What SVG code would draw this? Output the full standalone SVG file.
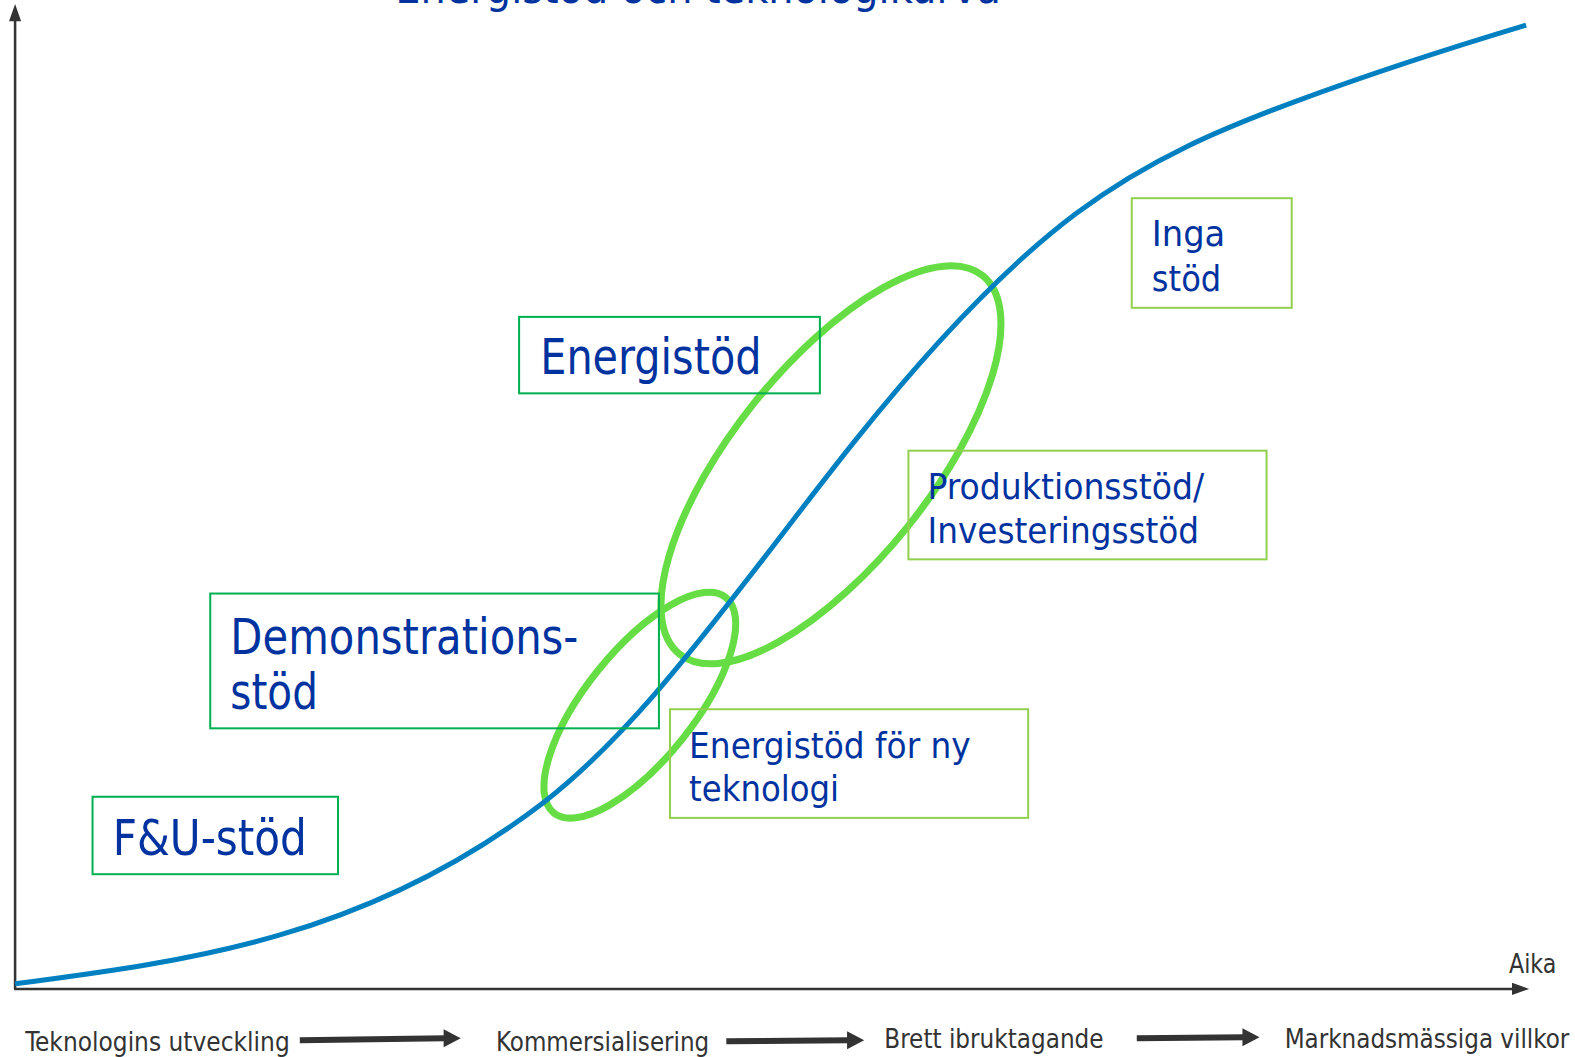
<svg xmlns="http://www.w3.org/2000/svg" width="1575" height="1057" viewBox="0 0 1575 1057">
<style>
  .lbl { font-family: "DejaVu Sans Condensed", "DejaVu Sans", Verdana, sans-serif; fill: #0033A0; }
  .big { font-size: 49px; }
  .mid { font-size: 36px; }
  .foot { font-family: "DejaVu Sans Condensed", "DejaVu Sans", Verdana, sans-serif; font-size: 26px; fill: #333333; }
  .boxD { fill: none; stroke: #00B050; stroke-width: 2; }
  .boxL { fill: none; stroke: #92D050; stroke-width: 2; }
  .ell { fill: none; stroke: #66DD44; stroke-width: 7; }
  .axis { fill: none; stroke: #333333; stroke-width: 2.5; }
  .head { fill: #333333; }
  .flow { fill: none; stroke: #333333; stroke-width: 6; }
</style>
<rect width="1575" height="1057" fill="#ffffff"/>
<g transform="scale(1.006)">

<g id="title">
  <text class="lbl" x="393" y="3" font-size="45" textLength="602" lengthAdjust="spacingAndGlyphs">Energistöd och teknologikurva</text>
</g>

<g id="axes">
  <line class="axis" x1="15" y1="983" x2="15" y2="18"/>
  <polygon class="head" points="15,4 9,21 21,21"/>
  <line class="axis" x1="14" y1="983" x2="1506" y2="983"/>
  <polygon class="head" points="1520,983 1503,977 1503,989"/>
  <text class="foot" x="1500" y="967" textLength="47" lengthAdjust="spacingAndGlyphs">Aika</text>
</g>

<g id="ellipses">
  <ellipse class="ell" cx="826" cy="462" rx="241" ry="98" transform="rotate(-51.3 826 462)"/>
  <ellipse class="ell" cx="636" cy="701" rx="137" ry="54" transform="rotate(-51.4 636 701)"/>
</g>

<g id="curve">
  <path d="M15,978 C190,955 365,932 540,798 C576.7,769.4 613.3,733.2 650,691 C716.7,614.3 783.3,521.3 850,438 C923.3,346.3 996.7,266.85 1070,212 C1143.3,157.15 1216.7,126.99 1290,100 C1365.7,72.15 1441.3,47.7 1517,25" fill="none" stroke="#0080C0" stroke-width="5"/>
</g>

<g id="node-fu">
  <rect class="boxD" x="92" y="792" width="244" height="77"/>
  <text class="lbl big" x="112" y="850" textLength="193" lengthAdjust="spacingAndGlyphs">F&amp;U-stöd</text>
</g>

<g id="node-demo">
  <rect class="boxD" x="209" y="590" width="446" height="134"/>
  <text class="lbl big" x="229" y="650" textLength="346" lengthAdjust="spacingAndGlyphs">Demonstrations-</text>
  <text class="lbl big" x="229" y="705" textLength="87" lengthAdjust="spacingAndGlyphs">stöd</text>
</g>

<g id="node-energistod">
  <rect class="boxD" x="516" y="315" width="299" height="76"/>
  <text class="lbl big" x="537" y="372" textLength="220" lengthAdjust="spacingAndGlyphs">Energistöd</text>
</g>

<g id="node-inga">
  <rect class="boxL" x="1125" y="197" width="159" height="109"/>
  <text class="lbl mid" x="1145" y="245" textLength="73" lengthAdjust="spacingAndGlyphs">Inga</text>
  <text class="lbl mid" x="1145" y="289" textLength="69" lengthAdjust="spacingAndGlyphs">stöd</text>
</g>

<g id="node-produktion">
  <rect class="boxL" x="903" y="448" width="356" height="108"/>
  <text class="lbl mid" x="922" y="496" textLength="275" lengthAdjust="spacingAndGlyphs">Produktionsstöd/</text>
  <text class="lbl mid" x="922" y="540" textLength="270" lengthAdjust="spacingAndGlyphs">Investeringsstöd</text>
</g>

<g id="node-nyteknik">
  <rect class="boxL" x="666" y="705" width="356" height="108"/>
  <text class="lbl mid" x="685" y="753" textLength="280" lengthAdjust="spacingAndGlyphs">Energistöd för ny</text>
  <text class="lbl mid" x="685" y="796" textLength="149" lengthAdjust="spacingAndGlyphs">teknologi</text>
</g>

<g id="stages">
  <text class="foot" x="25" y="1045" textLength="263" lengthAdjust="spacingAndGlyphs">Teknologins utveckling</text>
  <text class="foot" x="493" y="1045" textLength="212" lengthAdjust="spacingAndGlyphs">Kommersialisering</text>
  <text class="foot" x="879" y="1042" textLength="218" lengthAdjust="spacingAndGlyphs">Brett ibruktagande</text>
  <text class="foot" x="1277" y="1042" textLength="283" lengthAdjust="spacingAndGlyphs">Marknadsmässiga villkor</text>
</g>

<g id="connectors">
  <line class="flow" x1="298" y1="1034" x2="443" y2="1032"/>
  <polygon class="head" points="458,1032 441,1023 441,1041"/>
  <line class="flow" x1="722" y1="1035" x2="844" y2="1034"/>
  <polygon class="head" points="859,1034 842,1025 842,1043"/>
  <line class="flow" x1="1130" y1="1032" x2="1237" y2="1031"/>
  <polygon class="head" points="1252,1031 1235,1022 1235,1040"/>
</g>
</g>
</svg>
